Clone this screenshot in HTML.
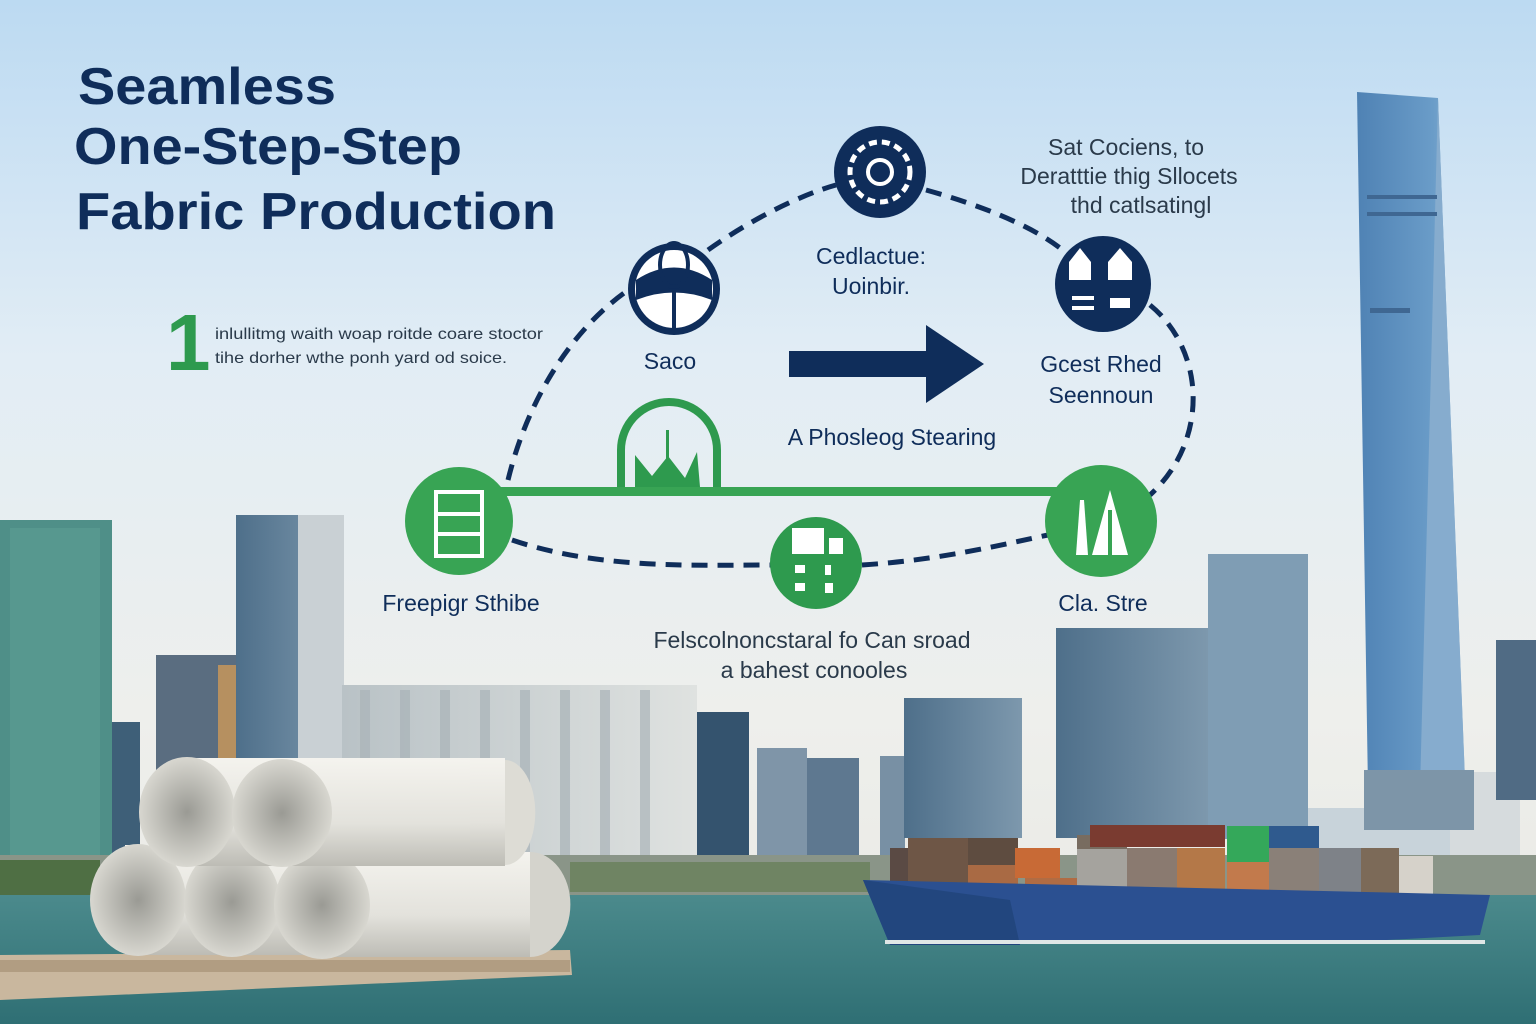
<!DOCTYPE html>
<html><head><meta charset="utf-8"><style>
html,body{margin:0;padding:0;width:1536px;height:1024px;overflow:hidden;background:#dfeaf0}
svg{display:block}
text{font-family:"Liberation Sans",sans-serif}
</style></head><body>
<svg width="1536" height="1024" viewBox="0 0 1536 1024" xmlns="http://www.w3.org/2000/svg">
<defs>
<linearGradient id="sky" x1="0" y1="0" x2="0" y2="1">
<stop offset="0" stop-color="#bcdaf2"/><stop offset="0.35" stop-color="#e2edf5"/><stop offset="0.7" stop-color="#eeefec"/><stop offset="1" stop-color="#e8e8e2"/></linearGradient>
<linearGradient id="water" x1="0" y1="0" x2="0" y2="1"><stop offset="0" stop-color="#4b8a8c"/><stop offset="1" stop-color="#2f6f74"/></linearGradient>
<linearGradient id="tower" x1="0" y1="0" x2="1" y2="0"><stop offset="0" stop-color="#4f82b4"/><stop offset="0.7" stop-color="#6a9cc8"/><stop offset="1" stop-color="#8db4d4"/></linearGradient>
<linearGradient id="bld" x1="0" y1="0" x2="1" y2="0"><stop offset="0" stop-color="#4e6f8a"/><stop offset="1" stop-color="#7d98ad"/></linearGradient>
<linearGradient id="bldl" x1="0" y1="0" x2="1" y2="0"><stop offset="0" stop-color="#b9c2c6"/><stop offset="1" stop-color="#dfe2e0"/></linearGradient>
<linearGradient id="roll" x1="0" y1="0" x2="0" y2="1"><stop offset="0" stop-color="#f4f3ee"/><stop offset="0.6" stop-color="#e3e2dc"/><stop offset="1" stop-color="#bdbcb5"/></linearGradient>
<radialGradient id="rollend"><stop offset="0" stop-color="#9a9a94"/><stop offset="1" stop-color="#d8d7d0"/></radialGradient>
</defs>
<rect width="1536" height="1024" fill="url(#sky)"/>

<!-- skyline -->
<g>
<rect x="0" y="520" width="112" height="340" fill="#4f8f88"/>
<rect x="10" y="528" width="90" height="330" fill="#5e9e94" opacity="0.6"/>
<rect x="112" y="722" width="28" height="140" fill="#3e5f78"/>
<rect x="156" y="655" width="80" height="205" fill="#5a6d80"/>
<rect x="218" y="665" width="18" height="190" fill="#b69060"/>
<rect x="236" y="515" width="108" height="345" fill="url(#bld)"/>
<rect x="298" y="515" width="46" height="345" fill="#c9d0d4"/>
<rect x="342" y="685" width="355" height="180" fill="url(#bldl)"/>
<g fill="#a9b3b8" opacity="0.7"><rect x="360" y="690" width="10" height="170"/><rect x="400" y="690" width="10" height="170"/><rect x="440" y="690" width="10" height="170"/><rect x="480" y="690" width="10" height="170"/><rect x="520" y="690" width="10" height="170"/><rect x="560" y="690" width="10" height="170"/><rect x="600" y="690" width="10" height="170"/><rect x="640" y="690" width="10" height="170"/></g>
<rect x="697" y="712" width="52" height="155" fill="#34536e"/>
<rect x="757" y="748" width="50" height="115" fill="#7f95a8"/>
<rect x="807" y="758" width="52" height="105" fill="#5e7890"/>
<rect x="880" y="756" width="25" height="110" fill="#7890a4"/>
<rect x="904" y="698" width="118" height="140" fill="url(#bld)"/>
<rect x="1056" y="628" width="152" height="210" fill="url(#bld)"/>
<rect x="1208" y="554" width="100" height="285" fill="#7f9db4"/>
<rect x="1308" y="808" width="150" height="55" fill="#c8d3da"/>
<rect x="1450" y="772" width="70" height="110" fill="#d6dbdd"/>
<rect x="1496" y="640" width="40" height="160" fill="#506b84"/>
<!-- tower -->
<polygon points="1357,92 1438,98 1465,780 1368,790" fill="url(#tower)"/>
<polygon points="1438,98 1465,780 1420,790 1432,330" fill="#86acce"/>
<rect x="1367" y="195" width="70" height="4" fill="#3f6792"/>
<rect x="1367" y="212" width="70" height="4" fill="#3f6792"/>
<rect x="1370" y="308" width="40" height="5" fill="#3f6792"/>
<rect x="1364" y="770" width="110" height="60" fill="#7d95a8"/>
<!-- trees/shore -->
<rect x="0" y="855" width="1536" height="45" fill="#8a9588"/>
<rect x="0" y="860" width="100" height="35" fill="#4f6f44"/>
<rect x="570" y="862" width="300" height="30" fill="#6f8463"/>
</g>

<!-- water -->
<rect x="0" y="895" width="1536" height="129" fill="url(#water)"/>

<!-- ship -->
<g>
<rect x="890" y="848" width="30" height="45" fill="#5a4a44"/>
<rect x="908" y="838" width="110" height="60" fill="#6e5646"/>
<rect x="968" y="838" width="50" height="35" fill="#5e4c40"/>
<rect x="968" y="865" width="50" height="30" fill="#a96a44"/>
<rect x="1015" y="848" width="45" height="30" fill="#c86a36"/>
<rect x="1025" y="878" width="52" height="25" fill="#b06c44"/>
<rect x="1077" y="846" width="50" height="55" fill="#a5a39e"/>
<rect x="1077" y="835" width="50" height="14" fill="#786c60"/>
<rect x="1090" y="825" width="135" height="22" fill="#7a3b30"/>
<rect x="1127" y="848" width="50" height="52" fill="#8a7a70"/>
<rect x="1177" y="848" width="48" height="52" fill="#b47848"/>
<rect x="1227" y="826" width="42" height="36" fill="#34a85a"/>
<rect x="1227" y="862" width="42" height="40" fill="#c27a4c"/>
<rect x="1269" y="826" width="50" height="22" fill="#2f5a8e"/>
<rect x="1269" y="848" width="50" height="52" fill="#8a8078"/>
<rect x="1319" y="848" width="42" height="52" fill="#7e8288"/>
<rect x="1361" y="848" width="38" height="52" fill="#7c6a58"/>
<rect x="1399" y="856" width="34" height="42" fill="#d6d2ca"/>
<polygon points="863,880 1490,895 1480,935 1350,942 890,945" fill="#2b5091"/>
<polygon points="863,880 1010,900 1020,945 890,945" fill="#22467e"/>
<rect x="885" y="940" width="600" height="4" fill="#dfe6e6"/>
</g>

<!-- pier + rolls -->
<polygon points="0,955 570,950 572,975 0,1000" fill="#c9b79e"/>
<rect x="0" y="960" width="570" height="12" fill="#b19d82"/>
<g>
<rect x="125" y="845" width="250" height="110" fill="url(#roll)"/>
<ellipse cx="138" cy="900" rx="48" ry="56" fill="url(#rollend)"/>
<rect x="228" y="845" width="160" height="110" fill="url(#roll)"/>
<ellipse cx="232" cy="902" rx="48" ry="55" fill="url(#rollend)"/>
<rect x="320" y="852" width="210" height="105" fill="url(#roll)"/>
<path d="M530,852 a40,52 0 0 1 0,105" fill="#d4d3cc"/>
<ellipse cx="322" cy="905" rx="48" ry="54" fill="url(#rollend)"/>
<rect x="185" y="758" width="320" height="108" fill="url(#roll)"/>
<path d="M505,760 a30,52 0 0 1 0,105" fill="#dddcd5"/>
<ellipse cx="187" cy="812" rx="48" ry="55" fill="url(#rollend)"/>
<rect x="280" y="760" width="190" height="106" fill="url(#roll)"/>
<ellipse cx="282" cy="813" rx="50" ry="54" fill="url(#rollend)"/>
</g>

<!-- title -->
<g fill="#0f2d5a" font-weight="bold">
<text x="78" y="104" font-size="52" textLength="258" lengthAdjust="spacingAndGlyphs">Seamless</text>
<text x="74" y="164" font-size="52" textLength="388" lengthAdjust="spacingAndGlyphs">One-Step-Step</text>
<text x="76" y="229" font-size="52" textLength="480" lengthAdjust="spacingAndGlyphs">Fabric Production</text>
</g>
<text x="166" y="370" font-size="80" font-weight="bold" fill="#2e9a4e">1</text>
<g fill="#2a3a4a" font-size="16">
<text x="215" y="339" textLength="328" lengthAdjust="spacingAndGlyphs">inlullitmg waith woap roitde coare stoctor</text>
<text x="215" y="363" textLength="292" lengthAdjust="spacingAndGlyphs">tihe dorher wthe ponh yard od soice.</text>
</g>

<!-- dashed loop -->
<g fill="none" stroke="#0f2d5a" stroke-width="5" stroke-dasharray="16,10">
<path d="M508,480 C530,390 580,320 636,285"/>
<path d="M708,250 C750,220 800,195 836,185"/>
<path d="M926,190 C980,205 1030,225 1060,248"/>
<path d="M1150,305 C1205,350 1210,440 1150,495"/>
<path d="M512,540 C600,570 700,565 772,565"/>
<path d="M862,565 C940,560 1000,545 1048,535"/>
</g>
<!-- green line -->
<rect x="470" y="487" width="620" height="9" fill="#38a454"/>
<!-- arch -->
<path d="M621,487 L621,450 A47,47 0 0 1 717,450 L717,487" fill="none" stroke="#2e9a4e" stroke-width="8"/>
<path d="M635,487 L635,455 L652,476 L668,456 L685,478 L697,452 L700,487 Z" fill="#2e9a4e"/>
<rect x="666" y="430" width="3" height="55" fill="#2e9a4e"/>

<!-- arrow -->
<rect x="789" y="351" width="140" height="26" fill="#0f2d5a"/>
<polygon points="926,325 984,364 926,403" fill="#0f2d5a"/>

<!-- navy nodes -->
<circle cx="880" cy="172" r="46" fill="#0f2d5a"/>
<circle cx="880" cy="172" r="30" fill="none" stroke="#fff" stroke-width="5" stroke-dasharray="8,5"/>
<circle cx="880" cy="172" r="12" fill="none" stroke="#fff" stroke-width="4"/>
<circle cx="674" cy="289" r="46" fill="#0f2d5a"/>
<circle cx="674" cy="289" r="39" fill="#fff"/>
<path d="M636,280 Q674,255 712,280 L712,300 Q674,285 636,300 Z" fill="#0f2d5a"/>
<ellipse cx="674" cy="265" rx="14" ry="22" fill="none" stroke="#0f2d5a" stroke-width="4"/>
<rect x="672" y="290" width="4" height="40" fill="#0f2d5a"/>
<circle cx="1103" cy="284" r="48" fill="#0f2d5a"/>
<polygon points="1069,280 1069,262 1080,248 1091,262 1091,280" fill="#fff"/>
<polygon points="1108,280 1108,262 1120,248 1132,262 1132,280" fill="#fff"/>
<rect x="1072" y="296" width="22" height="4" fill="#fff"/><rect x="1072" y="306" width="22" height="4" fill="#fff"/>
<rect x="1110" y="298" width="20" height="10" fill="#fff"/>

<!-- green nodes -->
<circle cx="459" cy="521" r="54" fill="#38a454"/>
<rect x="436" y="492" width="46" height="64" fill="none" stroke="#fff" stroke-width="4"/>
<rect x="436" y="512" width="46" height="4" fill="#fff"/><rect x="436" y="532" width="46" height="4" fill="#fff"/>
<circle cx="816" cy="563" r="46" fill="#2e9a4e"/>
<rect x="792" y="528" width="32" height="26" fill="#fff"/><rect x="829" y="538" width="14" height="16" fill="#fff"/>
<rect x="795" y="565" width="10" height="8" fill="#fff"/><rect x="825" y="565" width="6" height="10" fill="#fff"/>
<rect x="795" y="583" width="10" height="8" fill="#fff"/><rect x="825" y="583" width="8" height="10" fill="#fff"/>
<circle cx="1101" cy="521" r="56" fill="#38a454"/>
<polygon points="1076,555 1080,500 1084,500 1088,555" fill="#fff"/>
<polygon points="1092,555 1110,490 1128,555" fill="#fff"/>
<rect x="1108" y="510" width="4" height="45" fill="#38a454"/>

<!-- labels -->
<g fill="#0f2d5a" font-size="23" text-anchor="middle">
<text x="670" y="369">Saco</text>
<text x="871" y="264">Cedlactue:</text>
<text x="871" y="294">Uoinbir.</text>
<text x="1101" y="372">Gcest Rhed</text>
<text x="1101" y="403">Seennoun</text>
<text x="892" y="445">A Phosleog Stearing</text>
<text x="461" y="611">Freepigr Sthibe</text>
<text x="1103" y="611">Cla. Stre</text>
</g>
<g fill="#2a3a4a" font-size="23" text-anchor="middle">
<text x="1126" y="155">Sat Cociens, to</text>
<text x="1129" y="184">Deratttie thig Sllocets</text>
<text x="1141" y="213">thd catlsatingl</text>
<text x="812" y="648">Felscolnoncstaral fo Can sroad</text>
<text x="814" y="678">a bahest conooles</text>
</g>
</svg>
</body></html>
